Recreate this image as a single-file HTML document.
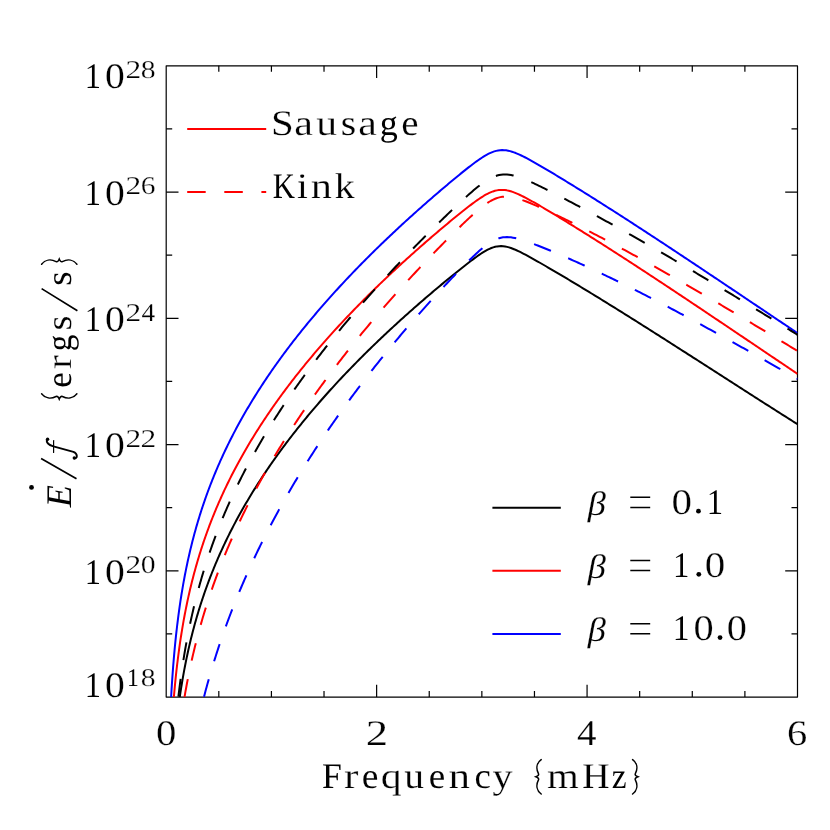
<!DOCTYPE html>
<html><head><meta charset="utf-8"><title>Energy flux spectrum</title>
<style>
html,body{margin:0;padding:0;background:#fff;}
body{width:830px;height:830px;overflow:hidden;font-family:"Liberation Serif",serif;}
svg{display:block;will-change:transform;opacity:0.999;text-rendering:geometricPrecision;}
</style></head><body>
<svg width="830" height="830" viewBox="0 0 830 830" font-family="'Liberation Serif', serif">
<rect width="830" height="830" fill="#fff"/>
<g fill="none" stroke="#000" stroke-width="1.2" stroke-linejoin="round" stroke-linecap="butt">
<rect x="166.2" y="65.8" width="631.30" height="631.30"/>
<path d="M218.81,697.1v-6.0M218.81,65.8v6.0M271.42,697.1v-6.0M271.42,65.8v6.0M324.02,697.1v-6.0M324.02,65.8v6.0M376.63,697.1v-12.3M376.63,65.8v12.3M429.24,697.1v-6.0M429.24,65.8v6.0M481.85,697.1v-6.0M481.85,65.8v6.0M534.46,697.1v-6.0M534.46,65.8v6.0M587.07,697.1v-12.3M587.07,65.8v12.3M639.67,697.1v-6.0M639.67,65.8v6.0M692.28,697.1v-6.0M692.28,65.8v6.0M744.89,697.1v-6.0M744.89,65.8v6.0M166.2,128.93h6.0M797.5,128.93h-6.0M166.2,192.06h12.3M797.5,192.06h-12.3M166.2,255.19h6.0M797.5,255.19h-6.0M166.2,318.32h12.3M797.5,318.32h-12.3M166.2,381.45h6.0M797.5,381.45h-6.0M166.2,444.58h12.3M797.5,444.58h-12.3M166.2,507.71h6.0M797.5,507.71h-6.0M166.2,570.84h12.3M797.5,570.84h-12.3M166.2,633.97h6.0M797.5,633.97h-6.0"/>
</g>
<clipPath id="c"><rect x="166.2" y="65.8" width="631.30" height="631.30"/></clipPath>
<g clip-path="url(#c)" fill="none" stroke-width="2" stroke-linejoin="round">
<path d="M179.76,697.10L180.05,695.12L180.35,693.14L180.65,691.16L180.96,689.18L181.27,687.20L181.59,685.22L181.91,683.24L182.25,681.27L182.58,679.29L182.93,677.32L183.27,675.34L183.63,673.37L183.99,671.40L184.36,669.43L184.73,667.46L185.11,665.50L185.50,663.53L185.89,661.57L186.29,659.60L186.70,657.64L187.11,655.68L187.53,653.72L187.96,651.76L188.39,649.81L188.83,647.85L189.28,645.90L189.73,643.95L190.20,642.00L190.66,640.05L191.14,638.11L191.62,636.16L192.11,634.22L192.61,632.28L193.12,630.34L193.63,628.40L194.15,626.47L194.67,624.53L195.21,622.60L195.75,620.67L196.30,618.75L196.86,616.82L197.42,614.90L197.99,612.98L198.57,611.06L199.16,609.15L199.76,607.23L200.36,605.32L200.97,603.41L201.59,601.51L202.21,599.60L202.84,597.70L203.49,595.81L204.13,593.91L204.79,592.02L205.45,590.13L206.13,588.24L206.81,586.35L207.49,584.47L208.19,582.59L208.89,580.72L209.60,578.84L210.32,576.97L211.05,575.11L211.78,573.24L212.52,571.38L213.27,569.52L214.02,567.67L214.79,565.81L215.56,563.96L216.34,562.12L217.12,560.28L217.92,558.44L218.72,556.60L219.53,554.77L220.34,552.94L221.17,551.11L222.00,549.29L222.84,547.47L223.68,545.65L224.54,543.84L225.40,542.03L226.26,540.22L227.14,538.42L228.02,536.62L228.91,534.82L229.80,533.03L230.70,531.24L231.61,529.46L232.53,527.68L233.45,525.90L234.38,524.12L235.32,522.35L236.26,520.58L237.21,518.82L238.17,517.06L239.13,515.30L240.10,513.55L241.08,511.80L242.06,510.05L243.05,508.31L244.05,506.57L245.05,504.84L246.06,503.11L247.07,501.38L248.09,499.66L249.12,497.93L250.15,496.22L251.19,494.51L252.24,492.80L253.29,491.09L254.34,489.39L255.41,487.69L256.48,485.99L257.55,484.30L258.63,482.62L259.72,480.93L260.81,479.25L261.90,477.58L263.01,475.90L264.11,474.23L265.23,472.57L266.35,470.91L267.47,469.25L268.60,467.59L269.74,465.94L270.88,464.29L272.02,462.65L273.17,461.01L274.33,459.37L275.49,457.74L276.65,456.11L277.82,454.48L279.00,452.86L280.18,451.24L281.37,449.63L282.56,448.02L283.75,446.41L284.95,444.80L286.15,443.20L287.36,441.60L288.58,440.01L289.79,438.42L291.02,436.83L292.24,435.25L293.48,433.67L294.71,432.09L295.95,430.52L297.20,428.95L298.44,427.38L299.70,425.82L300.96,424.26L302.22,422.70L303.48,421.15L304.75,419.60L306.03,418.05L307.30,416.51L308.59,414.97L309.87,413.43L311.16,411.90L312.46,410.37L313.75,408.84L315.05,407.32L316.36,405.80L317.67,404.28L318.98,402.77L320.30,401.26L321.62,399.75L322.94,398.25L324.27,396.75L325.60,395.25L326.93,393.75L328.27,392.26L329.61,390.77L330.96,389.29L332.31,387.81L333.66,386.33L335.01,384.85L336.37,383.38L337.74,381.91L339.10,380.44L340.47,378.98L341.84,377.52L343.22,376.06L344.59,374.61L345.97,373.16L347.36,371.71L348.75,370.26L350.14,368.82L351.53,367.38L352.93,365.94L354.33,364.51L355.73,363.08L357.13,361.65L358.54,360.23L359.95,358.80L361.37,357.39L362.79,355.97L364.20,354.56L365.63,353.14L367.05,351.74L368.48,350.33L369.91,348.93L371.35,347.53L372.78,346.13L374.22,344.74L375.66,343.35L377.11,341.96L378.55,340.57L380.00,339.19L381.45,337.81L382.91,336.43L384.37,335.05L385.83,333.68L387.29,332.31L388.75,330.94L390.22,329.58L391.69,328.22L393.16,326.86L394.63,325.50L396.11,324.15L397.59,322.79L399.07,321.44L400.55,320.10L402.04,318.75L403.52,317.41L405.01,316.07L406.51,314.73L408.00,313.40L409.50,312.07L411.00,310.74L412.50,309.41L414.00,308.09L415.51,306.76L417.01,305.44L418.52,304.13L420.03,302.81L421.55,301.50L423.06,300.19L424.58,298.88L426.10,297.57L427.62,296.27L429.14,294.97L430.67,293.67L432.20,292.37L433.72,291.08L435.26,289.78L436.79,288.49L438.32,287.21L439.86,285.92L441.40,284.64L442.94,283.36L444.48,282.08L446.03,280.80L447.57,279.53L449.12,278.26L450.67,276.99L452.22,275.72L453.78,274.46L455.34,273.20L456.90,271.94L458.46,270.68L460.02,269.43L461.59,268.18L463.16,266.94L464.73,265.70L466.31,264.46L467.89,263.24L469.48,262.01L471.08,260.80L472.68,259.60L474.29,258.40L475.91,257.22L477.54,256.06L479.18,254.91L480.84,253.79L482.52,252.70L484.23,251.65L485.96,250.64L487.72,249.69L489.52,248.81L491.36,248.02L493.25,247.34L495.17,246.79L497.14,246.39L499.12,246.16L501.13,246.09L503.13,246.20L505.11,246.47L507.07,246.87L509.01,247.39L510.92,248.01L512.80,248.70L514.65,249.45L516.49,250.26L518.31,251.10L520.11,251.97L521.90,252.86L523.68,253.78L525.46,254.71L527.22,255.66L528.98,256.62L530.74,257.58L532.49,258.56L534.24,259.54L535.98,260.52L537.73,261.51L539.47,262.50L541.20,263.50L542.94,264.50L544.67,265.50L546.41,266.51L548.14,267.51L549.87,268.52L551.60,269.53L553.33,270.55L555.06,271.56L556.78,272.58L558.51,273.60L560.23,274.62L561.95,275.64L563.68,276.66L565.40,277.69L567.12,278.72L568.84,279.74L570.56,280.77L572.28,281.80L573.99,282.84L575.71,283.87L577.43,284.90L579.14,285.94L580.85,286.98L582.57,288.02L584.28,289.06L585.99,290.10L587.70,291.14L589.41,292.18L591.12,293.23L592.83,294.27L594.54,295.32L596.25,296.37L597.96,297.41L599.66,298.46L601.37,299.51L603.08,300.57L604.78,301.62L606.48,302.67L608.19,303.73L609.89,304.78L611.59,305.84L613.30,306.90L615.00,307.95L616.70,309.01L618.40,310.07L620.10,311.13L621.80,312.19L623.50,313.26L625.19,314.32L626.89,315.38L628.59,316.45L630.29,317.51L631.98,318.58L633.68,319.64L635.38,320.71L637.07,321.78L638.77,322.85L640.46,323.92L642.15,324.99L643.85,326.06L645.54,327.13L647.23,328.20L648.93,329.27L650.62,330.34L652.31,331.42L654.00,332.49L655.69,333.56L657.39,334.64L659.08,335.71L660.77,336.79L662.46,337.86L664.15,338.94L665.84,340.02L667.53,341.09L669.21,342.17L670.90,343.25L672.59,344.33L674.28,345.41L675.97,346.49L677.66,347.56L679.35,348.64L681.03,349.72L682.72,350.80L684.41,351.88L686.10,352.96L687.78,354.05L689.47,355.13L691.16,356.21L692.84,357.29L694.53,358.37L696.22,359.45L697.90,360.53L699.59,361.62L701.27,362.70L702.96,363.78L704.65,364.86L706.33,365.95L708.02,367.03L709.70,368.11L711.39,369.19L713.08,370.28L714.76,371.36L716.45,372.44L718.13,373.52L719.82,374.61L721.50,375.69L723.19,376.77L724.88,377.86L726.56,378.94L728.25,380.02L729.93,381.10L731.62,382.19L733.31,383.27L734.99,384.35L736.68,385.43L738.36,386.51L740.05,387.60L741.74,388.68L743.42,389.76L745.11,390.84L746.80,391.92L748.48,393.00L750.17,394.08L751.86,395.16L753.55,396.24L755.23,397.32L756.92,398.40L758.61,399.48L760.30,400.56L761.99,401.64L763.67,402.72L765.36,403.80L767.05,404.87L768.74,405.95L770.43,407.03L772.12,408.11L773.81,409.18L775.50,410.26L777.19,411.33L778.88,412.41L780.57,413.48L782.26,414.56L783.96,415.63L785.65,416.70L787.34,417.78L789.03,418.85L790.73,419.92L792.42,420.99L794.11,422.06L795.81,423.13L797.50,424.20" stroke="#000000"/>
<path d="M173.87,697.10L174.04,695.11L174.22,693.11L174.40,691.12L174.58,689.12L174.77,687.13L174.96,685.14L175.15,683.15L175.35,681.16L175.55,679.16L175.75,677.17L175.96,675.18L176.18,673.19L176.40,671.20L176.62,669.21L176.85,667.22L177.08,665.24L177.31,663.25L177.56,661.26L177.80,659.28L178.05,657.29L178.31,655.30L178.57,653.32L178.83,651.34L179.10,649.35L179.38,647.37L179.66,645.39L179.94,643.41L180.23,641.43L180.53,639.45L180.83,637.47L181.14,635.49L181.45,633.51L181.77,631.54L182.09,629.56L182.42,627.59L182.76,625.61L183.10,623.64L183.45,621.67L183.80,619.70L184.16,617.73L184.53,615.76L184.90,613.80L185.28,611.83L185.66,609.87L186.05,607.90L186.45,605.94L186.86,603.98L187.27,602.02L187.68,600.07L188.11,598.11L188.54,596.15L188.98,594.20L189.42,592.25L189.87,590.30L190.33,588.35L190.80,586.40L191.27,584.46L191.75,582.52L192.24,580.57L192.73,578.64L193.23,576.70L193.74,574.76L194.26,572.83L194.78,570.90L195.31,568.97L195.85,567.04L196.39,565.11L196.95,563.19L197.51,561.27L198.07,559.35L198.65,557.43L199.23,555.51L199.82,553.60L200.42,551.69L201.03,549.78L201.64,547.88L202.26,545.98L202.89,544.08L203.52,542.18L204.17,540.28L204.82,538.39L205.48,536.50L206.15,534.61L206.82,532.73L207.50,530.85L208.19,528.97L208.89,527.09L209.59,525.22L210.31,523.35L211.03,521.48L211.75,519.61L212.49,517.75L213.23,515.89L213.98,514.04L214.74,512.19L215.51,510.34L216.28,508.49L217.06,506.65L217.85,504.81L218.64,502.97L219.45,501.14L220.26,499.31L221.07,497.48L221.90,495.66L222.73,493.84L223.57,492.02L224.42,490.20L225.27,488.39L226.13,486.59L227.00,484.78L227.87,482.98L228.76,481.19L229.64,479.39L230.54,477.60L231.44,475.82L232.35,474.03L233.27,472.25L234.19,470.48L235.12,468.71L236.06,466.94L237.00,465.17L237.95,463.41L238.91,461.65L239.87,459.90L240.84,458.15L241.82,456.40L242.80,454.66L243.79,452.91L244.79,451.18L245.79,449.45L246.80,447.72L247.81,445.99L248.83,444.27L249.86,442.55L250.89,440.83L251.93,439.12L252.97,437.42L254.02,435.71L255.08,434.01L256.14,432.31L257.21,430.62L258.28,428.93L259.36,427.24L260.44,425.56L261.53,423.88L262.63,422.21L263.73,420.54L264.84,418.87L265.95,417.20L267.06,415.54L268.19,413.89L269.31,412.23L270.45,410.58L271.59,408.94L272.73,407.29L273.88,405.65L275.03,404.02L276.19,402.38L277.35,400.76L278.52,399.13L279.69,397.51L280.87,395.89L282.05,394.27L283.24,392.66L284.43,391.05L285.63,389.45L286.83,387.85L288.03,386.25L289.24,384.66L290.46,383.07L291.68,381.48L292.90,379.89L294.13,378.31L295.36,376.74L296.60,375.16L297.84,373.59L299.09,372.03L300.33,370.46L301.59,368.90L302.85,367.34L304.11,365.79L305.37,364.24L306.64,362.69L307.92,361.15L309.19,359.61L310.47,358.07L311.76,356.53L313.05,355.00L314.34,353.47L315.64,351.95L316.94,350.43L318.24,348.91L319.55,347.39L320.86,345.88L322.18,344.37L323.49,342.87L324.82,341.36L326.14,339.86L327.47,338.37L328.80,336.87L330.14,335.38L331.48,333.90L332.82,332.41L334.17,330.93L335.52,329.45L336.87,327.97L338.22,326.50L339.58,325.03L340.95,323.57L342.31,322.10L343.68,320.64L345.05,319.18L346.43,317.73L347.80,316.28L349.18,314.83L350.57,313.38L351.95,311.94L353.34,310.50L354.74,309.06L356.13,307.62L357.53,306.19L358.93,304.76L360.34,303.34L361.74,301.91L363.15,300.49L364.56,299.07L365.98,297.66L367.40,296.24L368.82,294.83L370.24,293.43L371.67,292.02L373.09,290.62L374.53,289.22L375.96,287.82L377.40,286.43L378.83,285.04L380.27,283.65L381.72,282.26L383.16,280.88L384.61,279.50L386.06,278.12L387.52,276.74L388.97,275.37L390.43,274.00L391.89,272.63L393.35,271.26L394.82,269.90L396.29,268.54L397.76,267.18L399.23,265.82L400.70,264.47L402.18,263.11L403.66,261.77L405.14,260.42L406.62,259.07L408.11,257.73L409.59,256.39L411.08,255.06L412.58,253.72L414.07,252.39L415.56,251.06L417.06,249.73L418.56,248.40L420.06,247.08L421.57,245.76L423.07,244.44L424.58,243.13L426.09,241.81L427.60,240.50L429.12,239.19L430.63,237.88L432.15,236.58L433.67,235.27L435.19,233.97L436.71,232.67L438.24,231.38L439.77,230.08L441.30,228.79L442.83,227.50L444.36,226.22L445.89,224.93L447.43,223.65L448.97,222.37L450.51,221.09L452.06,219.82L453.60,218.55L455.15,217.28L456.70,216.02L458.26,214.76L459.82,213.50L461.38,212.25L462.94,211.00L464.51,209.75L466.08,208.52L467.66,207.29L469.25,206.06L470.84,204.85L472.44,203.65L474.05,202.46L475.67,201.28L477.30,200.12L478.95,198.98L480.61,197.87L482.29,196.79L484.00,195.74L485.73,194.74L487.50,193.80L489.30,192.92L491.13,192.12L493.00,191.42L494.92,190.83L496.87,190.37L498.84,190.06L500.84,189.90L502.84,189.91L504.83,190.06L506.81,190.36L508.77,190.77L510.70,191.30L512.61,191.91L514.49,192.60L516.34,193.35L518.18,194.14L520.00,194.98L521.80,195.85L523.59,196.75L525.37,197.67L527.13,198.61L528.89,199.56L530.65,200.53L532.40,201.50L534.14,202.49L535.88,203.48L537.61,204.48L539.34,205.48L541.07,206.49L542.80,207.51L544.52,208.53L546.24,209.55L547.96,210.57L549.68,211.60L551.39,212.63L553.11,213.66L554.82,214.69L556.54,215.73L558.25,216.77L559.96,217.81L561.67,218.85L563.38,219.89L565.08,220.94L566.79,221.99L568.49,223.03L570.20,224.08L571.90,225.13L573.60,226.19L575.30,227.24L577.01,228.30L578.71,229.35L580.40,230.41L582.10,231.47L583.80,232.53L585.50,233.59L587.19,234.66L588.89,235.72L590.58,236.79L592.28,237.86L593.97,238.92L595.66,239.99L597.35,241.06L599.04,242.13L600.73,243.21L602.42,244.28L604.11,245.36L605.80,246.43L607.48,247.51L609.17,248.59L610.86,249.67L612.54,250.75L614.23,251.83L615.91,252.91L617.59,253.99L619.28,255.07L620.96,256.16L622.64,257.25L624.32,258.33L626.00,259.42L627.68,260.51L629.36,261.60L631.04,262.69L632.72,263.78L634.40,264.87L636.08,265.96L637.75,267.05L639.43,268.15L641.10,269.24L642.78,270.34L644.45,271.43L646.13,272.53L647.80,273.63L649.48,274.72L651.15,275.82L652.82,276.92L654.49,278.02L656.17,279.12L657.84,280.22L659.51,281.33L661.18,282.43L662.85,283.53L664.52,284.64L666.19,285.74L667.86,286.84L669.53,287.95L671.20,289.06L672.86,290.16L674.53,291.27L676.20,292.38L677.87,293.48L679.53,294.59L681.20,295.70L682.86,296.81L684.53,297.92L686.20,299.03L687.86,300.14L689.53,301.25L691.19,302.36L692.86,303.47L694.52,304.59L696.18,305.70L697.85,306.81L699.51,307.92L701.18,309.04L702.84,310.15L704.50,311.27L706.16,312.38L707.83,313.49L709.49,314.61L711.15,315.72L712.81,316.84L714.48,317.96L716.14,319.07L717.80,320.19L719.46,321.30L721.12,322.42L722.78,323.54L724.44,324.65L726.10,325.77L727.76,326.89L729.43,328.01L731.09,329.12L732.75,330.24L734.41,331.36L736.07,332.48L737.73,333.60L739.39,334.71L741.05,335.83L742.71,336.95L744.37,338.07L746.03,339.19L747.69,340.31L749.35,341.42L751.01,342.54L752.67,343.66L754.33,344.78L755.99,345.90L757.65,347.02L759.31,348.14L760.97,349.25L762.63,350.37L764.29,351.49L765.95,352.61L767.61,353.73L769.27,354.85L770.93,355.97L772.59,357.08L774.25,358.20L775.91,359.32L777.57,360.44L779.23,361.56L780.89,362.67L782.55,363.79L784.21,364.91L785.87,366.02L787.53,367.14L789.19,368.26L790.85,369.38L792.52,370.49L794.18,371.61L795.84,372.72L797.50,373.84" stroke="#ff0000"/>
<path d="M171.12,697.10L171.24,695.10L171.35,693.10L171.47,691.10L171.59,689.10L171.72,687.10L171.84,685.10L171.97,683.10L172.10,681.11L172.24,679.11L172.38,677.11L172.52,675.11L172.66,673.11L172.81,671.11L172.96,669.12L173.11,667.12L173.27,665.12L173.43,663.13L173.60,661.13L173.76,659.13L173.93,657.14L174.11,655.14L174.29,653.15L174.47,651.15L174.65,649.16L174.84,647.16L175.03,645.17L175.23,643.18L175.43,641.18L175.64,639.19L175.85,637.20L176.06,635.21L176.28,633.22L176.50,631.23L176.73,629.24L176.96,627.25L177.19,625.26L177.43,623.27L177.68,621.28L177.93,619.29L178.18,617.31L178.44,615.32L178.71,613.33L178.98,611.35L179.25,609.36L179.53,607.38L179.82,605.40L180.11,603.42L180.40,601.44L180.70,599.46L181.01,597.48L181.32,595.50L181.64,593.52L181.97,591.54L182.30,589.57L182.63,587.59L182.97,585.62L183.32,583.65L183.68,581.67L184.04,579.70L184.40,577.73L184.77,575.77L185.15,573.80L185.54,571.83L185.93,569.87L186.33,567.91L186.73,565.94L187.15,563.98L187.56,562.03L187.99,560.07L188.42,558.11L188.86,556.16L189.31,554.20L189.76,552.25L190.22,550.30L190.68,548.36L191.16,546.41L191.64,544.46L192.13,542.52L192.62,540.58L193.12,538.64L193.63,536.70L194.15,534.77L194.68,532.84L195.21,530.91L195.75,528.98L196.29,527.05L196.85,525.12L197.41,523.20L197.98,521.28L198.56,519.36L199.14,517.45L199.73,515.53L200.33,513.62L200.94,511.71L201.56,509.81L202.18,507.90L202.81,506.00L203.45,504.10L204.09,502.21L204.75,500.31L205.41,498.42L206.08,496.53L206.75,494.65L207.44,492.77L208.13,490.89L208.83,489.01L209.54,487.14L210.25,485.26L210.97,483.40L211.70,481.53L212.44,479.67L213.19,477.81L213.94,475.95L214.70,474.10L215.47,472.25L216.24,470.40L217.03,468.56L217.82,466.72L218.61,464.88L219.42,463.05L220.23,461.22L221.05,459.39L221.88,457.56L222.71,455.74L223.55,453.93L224.40,452.11L225.26,450.30L226.12,448.49L226.99,446.69L227.87,444.89L228.75,443.09L229.65,441.30L230.54,439.51L231.45,437.72L232.36,435.94L233.28,434.16L234.21,432.38L235.14,430.61L236.08,428.84L237.02,427.07L237.97,425.31L238.93,423.55L239.90,421.79L240.87,420.04L241.85,418.29L242.83,416.55L243.82,414.81L244.82,413.07L245.82,411.34L246.83,409.61L247.85,407.88L248.87,406.16L249.90,404.44L250.93,402.72L251.97,401.01L253.02,399.30L254.07,397.60L255.13,395.90L256.19,394.20L257.26,392.50L258.33,390.81L259.41,389.13L260.50,387.44L261.59,385.76L262.69,384.09L263.79,382.41L264.89,380.75L266.01,379.08L267.12,377.42L268.25,375.76L269.38,374.10L270.51,372.45L271.65,370.80L272.79,369.16L273.94,367.52L275.09,365.88L276.25,364.25L277.42,362.62L278.58,360.99L279.76,359.37L280.94,357.75L282.12,356.13L283.31,354.52L284.50,352.91L285.69,351.30L286.90,349.70L288.10,348.10L289.31,346.50L290.53,344.91L291.74,343.32L292.97,341.73L294.19,340.15L295.43,338.57L296.66,336.99L297.90,335.42L299.15,333.85L300.40,332.28L301.65,330.72L302.91,329.16L304.17,327.60L305.43,326.05L306.70,324.50L307.97,322.95L309.25,321.41L310.53,319.87L311.81,318.33L313.10,316.80L314.39,315.27L315.69,313.74L316.99,312.21L318.29,310.69L319.59,309.17L320.90,307.66L322.22,306.14L323.53,304.64L324.85,303.13L326.18,301.63L327.51,300.12L328.84,298.63L330.17,297.13L331.51,295.64L332.85,294.15L334.19,292.67L335.54,291.19L336.89,289.71L338.24,288.23L339.60,286.76L340.96,285.28L342.32,283.82L343.69,282.35L345.06,280.89L346.43,279.43L347.80,277.97L349.18,276.52L350.56,275.07L351.95,273.62L353.33,272.17L354.72,270.73L356.11,269.29L357.51,267.85L358.91,266.42L360.31,264.99L361.71,263.56L363.12,262.13L364.53,260.71L365.94,259.29L367.35,257.87L368.77,256.45L370.19,255.04L371.61,253.63L373.04,252.22L374.47,250.82L375.90,249.41L377.33,248.01L378.76,246.62L380.20,245.22L381.64,243.83L383.08,242.44L384.53,241.05L385.97,239.67L387.42,238.28L388.88,236.90L390.33,235.53L391.79,234.15L393.24,232.78L394.71,231.41L396.17,230.04L397.63,228.67L399.10,227.31L400.57,225.95L402.04,224.59L403.52,223.24L404.99,221.88L406.47,220.53L407.95,219.18L409.44,217.83L410.92,216.49L412.41,215.15L413.90,213.81L415.39,212.47L416.88,211.13L418.38,209.80L419.87,208.47L421.37,207.14L422.87,205.82L424.38,204.49L425.88,203.17L427.39,201.85L428.90,200.53L430.41,199.22L431.92,197.90L433.43,196.59L434.95,195.28L436.47,193.97L437.99,192.67L439.51,191.37L441.03,190.07L442.56,188.77L444.09,187.47L445.62,186.18L447.15,184.89L448.68,183.60L450.22,182.32L451.76,181.03L453.30,179.75L454.84,178.47L456.38,177.20L457.93,175.93L459.48,174.66L461.04,173.40L462.60,172.14L464.16,170.89L465.72,169.64L467.30,168.39L468.87,167.16L470.46,165.93L472.05,164.71L473.65,163.51L475.26,162.32L476.88,161.14L478.51,159.98L480.16,158.84L481.83,157.73L483.52,156.66L485.23,155.62L486.97,154.63L488.75,153.70L490.56,152.85L492.41,152.07L494.29,151.41L496.22,150.86L498.18,150.45L500.17,150.19L502.17,150.09L504.17,150.14L506.16,150.35L508.13,150.69L510.08,151.14L512.01,151.70L513.91,152.34L515.78,153.05L517.63,153.82L519.46,154.63L521.28,155.48L523.08,156.36L524.86,157.26L526.64,158.19L528.41,159.13L530.17,160.09L531.92,161.06L533.67,162.04L535.41,163.02L537.15,164.02L538.88,165.02L540.61,166.03L542.34,167.04L544.07,168.05L545.79,169.07L547.52,170.09L549.24,171.12L550.96,172.15L552.68,173.18L554.39,174.21L556.11,175.24L557.82,176.28L559.54,177.32L561.25,178.36L562.96,179.40L564.67,180.44L566.38,181.49L568.08,182.53L569.79,183.58L571.50,184.63L573.20,185.68L574.91,186.74L576.61,187.79L578.31,188.84L580.01,189.90L581.72,190.96L583.42,192.02L585.12,193.08L586.81,194.14L588.51,195.20L590.21,196.27L591.91,197.33L593.60,198.40L595.30,199.47L596.99,200.54L598.68,201.61L600.38,202.68L602.07,203.75L603.76,204.82L605.45,205.90L607.14,206.97L608.83,208.05L610.52,209.12L612.21,210.20L613.89,211.28L615.58,212.36L617.27,213.44L618.95,214.52L620.64,215.61L622.32,216.69L624.01,217.78L625.69,218.86L627.37,219.95L629.06,221.03L630.74,222.12L632.42,223.21L634.10,224.30L635.78,225.39L637.46,226.48L639.14,227.57L640.82,228.67L642.50,229.76L644.18,230.85L645.85,231.95L647.53,233.04L649.21,234.14L650.88,235.24L652.56,236.34L654.23,237.43L655.91,238.53L657.58,239.63L659.26,240.73L660.93,241.83L662.60,242.93L664.28,244.03L665.95,245.14L667.62,246.24L669.29,247.34L670.96,248.45L672.64,249.55L674.31,250.66L675.98,251.76L677.65,252.87L679.32,253.97L680.99,255.08L682.66,256.19L684.32,257.30L685.99,258.40L687.66,259.51L689.33,260.62L691.00,261.73L692.67,262.84L694.33,263.95L696.00,265.06L697.67,266.17L699.33,267.28L701.00,268.39L702.67,269.51L704.33,270.62L706.00,271.73L707.66,272.84L709.33,273.96L710.99,275.07L712.66,276.18L714.32,277.30L715.99,278.41L717.65,279.53L719.32,280.64L720.98,281.75L722.65,282.87L724.31,283.98L725.97,285.10L727.64,286.21L729.30,287.33L730.97,288.45L732.63,289.56L734.29,290.68L735.96,291.79L737.62,292.91L739.28,294.03L740.95,295.14L742.61,296.26L744.27,297.38L745.93,298.49L747.60,299.61L749.26,300.73L750.92,301.84L752.59,302.96L754.25,304.08L755.91,305.19L757.58,306.31L759.24,307.43L760.90,308.54L762.56,309.66L764.23,310.78L765.89,311.89L767.55,313.01L769.22,314.13L770.88,315.24L772.54,316.36L774.21,317.48L775.87,318.59L777.53,319.71L779.20,320.82L780.86,321.94L782.52,323.06L784.19,324.17L785.85,325.29L787.51,326.40L789.18,327.52L790.84,328.63L792.51,329.75L794.17,330.86L795.84,331.98L797.50,333.09" stroke="#0000ff"/>
<path d="M178.35,697.10L178.58,695.11L178.82,693.12L179.06,691.13L179.31,689.14L179.56,687.16L179.81,685.17L180.07,683.18L180.33,681.20L180.60,679.21L180.87,677.23L181.15,675.24L181.43,673.26L181.72,671.28L182.01,669.29L182.30,667.31L182.60,665.33L182.90,663.35L183.21,661.37L183.53,659.39L183.85,657.42L184.17,655.44L184.50,653.46L184.83,651.49L185.17,649.51L185.52,647.54L185.87,645.57L186.22,643.60L186.58,641.62L186.95,639.66L187.32,637.69L187.70,635.72L188.08,633.75L188.47,631.79L188.86,629.82L189.26,627.86L189.67,625.90L190.08,623.94L190.49,621.98L190.92,620.02L191.35,618.06L191.78,616.11L192.22,614.15L192.67,612.20L193.12,610.25L193.58,608.30L194.04,606.35L194.52,604.40L194.99,602.46L195.48,600.51L195.97,598.57L196.46,596.63L196.96,594.69L197.47,592.75L197.99,590.82L198.51,588.88L199.04,586.95L199.57,585.02L200.11,583.09L200.66,581.16L201.21,579.24L201.77,577.31L202.34,575.39L202.91,573.47L203.49,571.56L204.08,569.64L204.67,567.73L205.27,565.81L205.87,563.90L206.49,562.00L207.10,560.09L207.73,558.19L208.36,556.29L209.00,554.39L209.65,552.49L210.30,550.60L210.96,548.71L211.62,546.82L212.29,544.93L212.97,543.04L213.65,541.16L214.35,539.28L215.04,537.40L215.75,535.53L216.46,533.65L217.18,531.78L217.90,529.92L218.63,528.05L219.37,526.19L220.11,524.33L220.86,522.47L221.61,520.61L222.38,518.76L223.15,516.91L223.92,515.06L224.70,513.22L225.49,511.38L226.28,509.54L227.08,507.70L227.89,505.87L228.70,504.04L229.52,502.21L230.35,500.38L231.18,498.56L232.01,496.74L232.86,494.92L233.71,493.11L234.56,491.30L235.42,489.49L236.29,487.68L237.16,485.88L238.04,484.08L238.93,482.28L239.82,480.49L240.71,478.69L241.62,476.91L242.52,475.12L243.44,473.34L244.36,471.56L245.28,469.78L246.21,468.01L247.15,466.23L248.09,464.47L249.03,462.70L249.99,460.94L250.94,459.18L251.91,457.42L252.88,455.67L253.85,453.92L254.83,452.17L255.81,450.42L256.80,448.68L257.79,446.94L258.79,445.21L259.80,443.47L260.81,441.74L261.82,440.01L262.84,438.29L263.87,436.57L264.89,434.85L265.93,433.13L266.97,431.42L268.01,429.71L269.06,428.00L270.11,426.30L271.17,424.60L272.23,422.90L273.30,421.20L274.37,419.51L275.44,417.82L276.52,416.13L277.61,414.45L278.70,412.77L279.79,411.09L280.89,409.41L281.99,407.74L283.10,406.07L284.21,404.40L285.32,402.74L286.44,401.07L287.56,399.41L288.69,397.76L289.82,396.10L290.95,394.45L292.09,392.81L293.24,391.16L294.38,389.52L295.53,387.88L296.69,386.24L297.84,384.61L299.01,382.97L300.17,381.34L301.34,379.72L302.51,378.09L303.69,376.47L304.87,374.85L306.06,373.24L307.24,371.62L308.43,370.01L309.63,368.41L310.83,366.80L312.03,365.20L313.23,363.60L314.44,362.00L315.65,360.40L316.87,358.81L318.09,357.22L319.31,355.63L320.53,354.05L321.76,352.46L322.99,350.88L324.23,349.31L325.46,347.73L326.71,346.16L327.95,344.59L329.20,343.02L330.45,341.45L331.70,339.89L332.95,338.33L334.21,336.77L335.48,335.22L336.74,333.66L338.01,332.11L339.28,330.56L340.55,329.02L341.83,327.47L343.11,325.93L344.39,324.39L345.67,322.85L346.96,321.32L348.25,319.78L349.54,318.25L350.84,316.73L352.14,315.20L353.44,313.68L354.74,312.15L356.04,310.63L357.35,309.12L358.66,307.60L359.98,306.09L361.29,304.58L362.61,303.07L363.93,301.56L365.25,300.06L366.58,298.56L367.91,297.06L369.24,295.56L370.57,294.06L371.91,292.57L373.24,291.08L374.58,289.59L375.93,288.10L377.27,286.62L378.62,285.13L379.96,283.65L381.32,282.17L382.67,280.70L384.02,279.22L385.38,277.75L386.74,276.28L388.10,274.81L389.47,273.34L390.83,271.87L392.20,270.41L393.57,268.95L394.94,267.49L396.32,266.03L397.69,264.58L399.07,263.12L400.45,261.67L401.83,260.22L403.22,258.77L404.60,257.33L405.99,255.88L407.38,254.44L408.77,253.00L410.17,251.56L411.56,250.12L412.96,248.69L414.36,247.25L415.76,245.82L417.17,244.39L418.57,242.96L419.98,241.54L421.39,240.11L422.80,238.69L424.21,237.27L425.62,235.85L427.04,234.43L428.46,233.02L429.88,231.60L431.30,230.19L432.72,228.78L434.14,227.37L435.57,225.97L437.00,224.56L438.43,223.16L439.86,221.76L441.29,220.36L442.73,218.96L444.17,217.57L445.61,216.17L447.05,214.78L448.49,213.39L449.94,212.01L451.39,210.62L452.84,209.24L454.29,207.86L455.75,206.49L457.21,205.11L458.67,203.74L460.13,202.38L461.60,201.02L463.08,199.66L464.56,198.31L466.04,196.96L467.53,195.62L469.03,194.29L470.53,192.97L472.04,191.65L473.56,190.35L475.10,189.06L476.64,187.79L478.21,186.53L479.78,185.30L481.38,184.09L483.00,182.91L484.65,181.77L486.32,180.67L488.03,179.62L489.77,178.63L491.55,177.71L493.37,176.88L495.24,176.15L497.14,175.53L499.08,175.05L501.06,174.69L503.05,174.49L505.05,174.42L507.05,174.49L509.05,174.69L511.02,175.00L512.99,175.41L514.93,175.90L516.85,176.45L518.76,177.07L520.65,177.74L522.52,178.44L524.38,179.18L526.24,179.95L528.08,180.74L529.91,181.55L531.73,182.37L533.55,183.21L535.37,184.06L537.17,184.93L538.98,185.80L540.78,186.67L542.58,187.56L544.37,188.45L546.17,189.34L547.96,190.24L549.74,191.14L551.53,192.05L553.31,192.96L555.10,193.87L556.88,194.79L558.66,195.71L560.44,196.63L562.22,197.56L563.99,198.48L565.77,199.41L567.54,200.34L569.31,201.27L571.09,202.21L572.86,203.15L574.63,204.08L576.39,205.03L578.16,205.97L579.93,206.91L581.69,207.86L583.46,208.81L585.22,209.75L586.99,210.71L588.75,211.66L590.51,212.61L592.27,213.57L594.03,214.53L595.79,215.49L597.55,216.45L599.30,217.41L601.06,218.37L602.82,219.34L604.57,220.30L606.33,221.27L608.08,222.24L609.83,223.21L611.58,224.18L613.33,225.16L615.08,226.13L616.83,227.11L618.58,228.09L620.33,229.07L622.08,230.05L623.82,231.03L625.57,232.01L627.31,233.00L629.06,233.98L630.80,234.97L632.54,235.96L634.28,236.95L636.03,237.94L637.77,238.93L639.51,239.92L641.25,240.91L642.98,241.91L644.72,242.91L646.46,243.90L648.20,244.90L649.93,245.90L651.67,246.90L653.40,247.90L655.14,248.91L656.87,249.91L658.60,250.91L660.34,251.92L662.07,252.93L663.80,253.93L665.53,254.94L667.26,255.95L668.99,256.96L670.72,257.97L672.45,258.99L674.18,260.00L675.90,261.02L677.63,262.03L679.36,263.05L681.08,264.06L682.81,265.08L684.53,266.10L686.26,267.12L687.98,268.14L689.71,269.16L691.43,270.18L693.15,271.21L694.87,272.23L696.59,273.26L698.32,274.28L700.04,275.31L701.76,276.33L703.48,277.36L705.20,278.39L706.91,279.42L708.63,280.45L710.35,281.48L712.07,282.51L713.78,283.54L715.50,284.58L717.22,285.61L718.93,286.64L720.65,287.68L722.36,288.71L724.08,289.75L725.79,290.79L727.51,291.82L729.22,292.86L730.93,293.90L732.65,294.94L734.36,295.98L736.07,297.02L737.78,298.06L739.49,299.10L741.20,300.15L742.91,301.19L744.62,302.23L746.33,303.27L748.04,304.32L749.75,305.36L751.46,306.41L753.17,307.45L754.88,308.50L756.59,309.55L758.29,310.60L760.00,311.64L761.71,312.69L763.42,313.74L765.12,314.79L766.83,315.84L768.54,316.89L770.24,317.94L771.95,318.99L773.65,320.04L775.36,321.09L777.06,322.15L778.77,323.20L780.47,324.25L782.17,325.31L783.88,326.36L785.58,327.41L787.28,328.47L788.99,329.52L790.69,330.58L792.39,331.63L794.10,332.69L795.80,333.75L797.50,334.80" stroke="#000000" stroke-dasharray="17.96 18.94" stroke-dashoffset="36.46"/>
<path d="M184.50,697.10L184.84,695.13L185.18,693.15L185.53,691.18L185.89,689.21L186.25,687.24L186.61,685.27L186.98,683.30L187.36,681.33L187.74,679.36L188.13,677.39L188.52,675.43L188.92,673.47L189.32,671.50L189.73,669.54L190.14,667.58L190.56,665.62L190.99,663.66L191.42,661.71L191.86,659.75L192.30,657.80L192.75,655.84L193.20,653.89L193.66,651.94L194.13,649.99L194.60,648.05L195.08,646.10L195.56,644.16L196.05,642.21L196.54,640.27L197.04,638.33L197.55,636.39L198.06,634.45L198.58,632.52L199.10,630.59L199.63,628.65L200.17,626.72L200.71,624.79L201.26,622.87L201.81,620.94L202.37,619.02L202.94,617.09L203.51,615.17L204.09,613.26L204.67,611.34L205.26,609.42L205.86,607.51L206.46,605.60L207.07,603.69L207.68,601.78L208.30,599.88L208.93,597.97L209.56,596.07L210.20,594.17L210.84,592.27L211.49,590.38L212.15,588.49L212.81,586.59L213.47,584.70L214.15,582.82L214.83,580.93L215.51,579.05L216.20,577.17L216.90,575.29L217.60,573.41L218.31,571.54L219.02,569.67L219.74,567.80L220.46,565.93L221.19,564.06L221.93,562.20L222.67,560.34L223.42,558.48L224.17,556.62L224.93,554.77L225.69,552.91L226.46,551.06L227.24,549.22L228.02,547.37L228.81,545.53L229.60,543.69L230.40,541.85L231.20,540.01L232.01,538.18L232.82,536.35L233.64,534.52L234.46,532.69L235.29,530.87L236.12,529.05L236.96,527.23L237.81,525.41L238.66,523.59L239.51,521.78L240.37,519.97L241.24,518.17L242.11,516.36L242.98,514.56L243.86,512.76L244.75,510.96L245.64,509.16L246.53,507.37L247.43,505.58L248.34,503.79L249.25,502.01L250.16,500.22L251.08,498.44L252.00,496.67L252.93,494.89L253.86,493.12L254.80,491.35L255.74,489.58L256.69,487.81L257.64,486.05L258.60,484.29L259.56,482.53L260.52,480.77L261.49,479.02L262.47,477.27L263.44,475.52L264.43,473.77L265.41,472.03L266.40,470.29L267.40,468.55L268.40,466.81L269.40,465.08L270.41,463.35L271.42,461.62L272.44,459.89L273.46,458.17L274.49,456.44L275.51,454.72L276.55,453.01L277.58,451.29L278.62,449.58L279.67,447.87L280.72,446.16L281.77,444.46L282.83,442.76L283.89,441.06L284.95,439.36L286.02,437.66L287.09,435.97L288.17,434.28L289.25,432.59L290.33,430.91L291.42,429.22L292.51,427.54L293.60,425.86L294.70,424.19L295.80,422.51L296.91,420.84L298.02,419.17L299.13,417.51L300.24,415.84L301.36,414.18L302.48,412.52L303.61,410.86L304.74,409.21L305.87,407.56L307.01,405.91L308.15,404.26L309.29,402.61L310.44,400.97L311.59,399.33L312.74,397.69L313.90,396.05L315.06,394.42L316.22,392.79L317.39,391.16L318.56,389.53L319.73,387.91L320.91,386.28L322.08,384.66L323.27,383.04L324.45,381.43L325.64,379.82L326.83,378.20L328.02,376.60L329.22,374.99L330.42,373.38L331.63,371.78L332.83,370.18L334.04,368.58L335.25,366.99L336.47,365.40L337.69,363.80L338.91,362.22L340.13,360.63L341.36,359.05L342.59,357.46L343.82,355.88L345.06,354.31L346.29,352.73L347.53,351.16L348.78,349.59L350.02,348.02L351.27,346.45L352.52,344.88L353.78,343.32L355.04,341.76L356.30,340.20L357.56,338.65L358.82,337.09L360.09,335.54L361.36,333.99L362.63,332.45L363.91,330.90L365.19,329.36L366.47,327.82L367.75,326.28L369.04,324.74L370.33,323.21L371.62,321.67L372.91,320.14L374.21,318.61L375.50,317.09L376.80,315.56L378.11,314.04L379.41,312.52L380.72,311.00L382.03,309.49L383.34,307.97L384.66,306.46L385.98,304.95L387.30,303.44L388.62,301.94L389.94,300.43L391.27,298.93L392.60,297.43L393.93,295.94L395.26,294.44L396.60,292.95L397.94,291.45L399.28,289.97L400.62,288.48L401.96,286.99L403.31,285.51L404.66,284.03L406.01,282.55L407.36,281.07L408.72,279.59L410.08,278.12L411.44,276.65L412.80,275.18L414.16,273.71L415.53,272.25L416.90,270.78L418.27,269.32L419.64,267.86L421.02,266.40L422.39,264.95L423.77,263.49L425.15,262.04L426.53,260.59L427.92,259.14L429.31,257.70L430.69,256.25L432.09,254.81L433.48,253.37L434.87,251.93L436.27,250.49L437.67,249.06L439.07,247.63L440.47,246.20L441.88,244.77L443.29,243.34L444.69,241.92L446.11,240.50L447.52,239.08L448.94,237.66L450.35,236.24L451.77,234.83L453.20,233.42L454.62,232.01L456.05,230.61L457.48,229.20L458.92,227.81L460.36,226.41L461.80,225.02L463.24,223.63L464.69,222.25L466.15,220.87L467.61,219.50L469.07,218.13L470.54,216.77L472.02,215.42L473.51,214.08L475.01,212.75L476.52,211.43L478.04,210.13L479.58,208.84L481.14,207.58L482.71,206.34L484.31,205.14L485.94,203.96L487.59,202.84L489.28,201.76L491.01,200.75L492.78,199.81L494.60,198.97L496.46,198.23L498.37,197.61L500.31,197.13L502.29,196.80L504.28,196.61L506.29,196.57L508.29,196.66L510.28,196.88L512.26,197.20L514.22,197.61L516.16,198.10L518.09,198.65L520.00,199.25L521.90,199.90L523.78,200.58L525.65,201.29L527.52,202.02L529.38,202.77L531.23,203.54L533.07,204.33L534.91,205.12L536.74,205.93L538.57,206.75L540.40,207.57L542.22,208.40L544.04,209.23L545.86,210.07L547.68,210.92L549.49,211.77L551.31,212.63L553.12,213.48L554.93,214.35L556.73,215.21L558.54,216.08L560.34,216.95L562.14,217.83L563.94,218.71L565.74,219.59L567.54,220.47L569.34,221.36L571.14,222.25L572.93,223.14L574.72,224.03L576.51,224.93L578.30,225.83L580.09,226.73L581.88,227.64L583.67,228.54L585.46,229.45L587.24,230.36L589.02,231.28L590.81,232.19L592.59,233.11L594.37,234.03L596.15,234.95L597.92,235.88L599.70,236.80L601.48,237.73L603.25,238.66L605.02,239.59L606.80,240.53L608.57,241.46L610.34,242.40L612.11,243.34L613.88,244.28L615.65,245.23L617.41,246.17L619.18,247.12L620.94,248.07L622.71,249.02L624.47,249.97L626.23,250.93L627.99,251.88L629.75,252.84L631.51,253.80L633.27,254.76L635.03,255.72L636.78,256.69L638.54,257.65L640.29,258.62L642.05,259.59L643.80,260.56L645.55,261.53L647.30,262.51L649.05,263.48L650.80,264.46L652.55,265.43L654.30,266.41L656.05,267.39L657.79,268.38L659.54,269.36L661.29,270.34L663.03,271.33L664.77,272.32L666.52,273.30L668.26,274.29L670.00,275.29L671.74,276.28L673.48,277.27L675.22,278.27L676.96,279.26L678.70,280.26L680.44,281.26L682.17,282.25L683.91,283.25L685.64,284.26L687.38,285.26L689.11,286.26L690.85,287.27L692.58,288.27L694.31,289.28L696.05,290.29L697.78,291.29L699.51,292.30L701.24,293.31L702.97,294.32L704.70,295.34L706.43,296.35L708.16,297.36L709.88,298.38L711.61,299.39L713.34,300.41L715.06,301.43L716.79,302.45L718.51,303.46L720.24,304.48L721.96,305.50L723.69,306.53L725.41,307.55L727.13,308.57L728.86,309.59L730.58,310.62L732.30,311.64L734.02,312.67L735.74,313.69L737.46,314.72L739.18,315.75L740.90,316.78L742.62,317.81L744.34,318.83L746.06,319.86L747.78,320.89L749.50,321.93L751.22,322.96L752.93,323.99L754.65,325.02L756.37,326.06L758.08,327.09L759.80,328.12L761.52,329.16L763.23,330.19L764.95,331.23L766.66,332.26L768.38,333.30L770.09,334.34L771.81,335.37L773.52,336.41L775.24,337.45L776.95,338.49L778.66,339.53L780.38,340.56L782.09,341.60L783.80,342.64L785.51,343.68L787.23,344.72L788.94,345.76L790.65,346.80L792.36,347.84L794.08,348.89L795.79,349.93L797.50,350.97" stroke="#ff0000" stroke-dasharray="17.99 18.92" stroke-dashoffset="36.66"/>
<path d="M203.92,697.10L204.43,695.16L204.94,693.23L205.45,691.29L205.97,689.36L206.49,687.43L207.02,685.50L207.56,683.57L208.10,681.64L208.64,679.71L209.19,677.79L209.74,675.86L210.30,673.94L210.86,672.02L211.43,670.10L212.00,668.18L212.58,666.26L213.16,664.35L213.75,662.43L214.34,660.52L214.94,658.61L215.54,656.70L216.15,654.79L216.76,652.89L217.38,650.98L218.00,649.08L218.63,647.18L219.26,645.28L219.90,643.38L220.54,641.48L221.19,639.59L221.84,637.70L222.49,635.81L223.15,633.92L223.82,632.03L224.49,630.14L225.17,628.26L225.85,626.37L226.53,624.49L227.22,622.61L227.92,620.74L228.62,618.86L229.32,616.99L230.03,615.11L230.75,613.24L231.46,611.38L232.19,609.51L232.92,607.64L233.65,605.78L234.39,603.92L235.13,602.06L235.88,600.20L236.63,598.35L237.39,596.50L238.15,594.64L238.91,592.79L239.68,590.95L240.46,589.10L241.24,587.26L242.02,585.41L242.81,583.57L243.61,581.74L244.40,579.90L245.21,578.07L246.01,576.23L246.83,574.40L247.64,572.58L248.46,570.75L249.29,568.93L250.12,567.10L250.95,565.28L251.79,563.47L252.63,561.65L253.48,559.84L254.33,558.02L255.19,556.21L256.05,554.41L256.91,552.60L257.78,550.80L258.65,549.00L259.53,547.20L260.41,545.40L261.30,543.60L262.19,541.81L263.08,540.02L263.98,538.23L264.88,536.44L265.79,534.66L266.70,532.88L267.62,531.09L268.53,529.32L269.46,527.54L270.39,525.77L271.32,523.99L272.25,522.22L273.19,520.46L274.13,518.69L275.08,516.93L276.03,515.16L276.99,513.40L277.95,511.65L278.91,509.89L279.88,508.14L280.85,506.39L281.82,504.64L282.80,502.89L283.78,501.15L284.77,499.41L285.76,497.67L286.75,495.93L287.75,494.19L288.75,492.46L289.76,490.73L290.76,489.00L291.78,487.27L292.79,485.55L293.81,483.82L294.84,482.10L295.86,480.38L296.89,478.67L297.93,476.95L298.96,475.24L300.00,473.53L301.05,471.82L302.10,470.12L303.15,468.41L304.20,466.71L305.26,465.01L306.33,463.32L307.39,461.62L308.46,459.93L309.53,458.24L310.61,456.55L311.69,454.86L312.77,453.18L313.86,451.50L314.95,449.82L316.04,448.14L317.13,446.46L318.23,444.79L319.34,443.12L320.44,441.45L321.55,439.78L322.66,438.12L323.78,436.46L324.90,434.80L326.02,433.14L327.14,431.48L328.27,429.83L329.40,428.18L330.54,426.53L331.67,424.88L332.81,423.23L333.96,421.59L335.10,419.95L336.25,418.31L337.41,416.67L338.56,415.04L339.72,413.41L340.88,411.78L342.05,410.15L343.22,408.52L344.39,406.90L345.56,405.28L346.74,403.66L347.92,402.04L349.10,400.42L350.29,398.81L351.47,397.20L352.66,395.59L353.86,393.98L355.06,392.38L356.26,390.78L357.46,389.18L358.66,387.58L359.87,385.98L361.08,384.39L362.30,382.79L363.51,381.20L364.73,379.62L365.95,378.03L367.18,376.45L368.40,374.86L369.63,373.29L370.87,371.71L372.10,370.13L373.34,368.56L374.58,366.99L375.82,365.42L377.07,363.85L378.32,362.29L379.57,360.72L380.82,359.16L382.08,357.60L383.34,356.05L384.60,354.49L385.86,352.94L387.13,351.39L388.40,349.84L389.67,348.29L390.94,346.75L392.22,345.21L393.50,343.67L394.78,342.13L396.07,340.59L397.35,339.06L398.64,337.53L399.93,336.00L401.22,334.47L402.52,332.94L403.82,331.42L405.12,329.90L406.42,328.38L407.73,326.86L409.04,325.34L410.35,323.83L411.66,322.32L412.97,320.81L414.29,319.30L415.61,317.79L416.93,316.29L418.25,314.79L419.58,313.29L420.91,311.79L422.24,310.29L423.57,308.80L424.91,307.31L426.24,305.82L427.58,304.33L428.92,302.84L430.27,301.36L431.61,299.88L432.96,298.40L434.31,296.92L435.67,295.44L437.02,293.97L438.38,292.50L439.74,291.03L441.10,289.56L442.46,288.10L443.83,286.63L445.20,285.17L446.57,283.71L447.94,282.25L449.31,280.80L450.69,279.35L452.07,277.90L453.45,276.45L454.84,275.00L456.23,273.56L457.62,272.12L459.01,270.68L460.41,269.25L461.81,267.82L463.21,266.39L464.62,264.97L466.03,263.55L467.45,262.13L468.87,260.72L470.30,259.32L471.73,257.92L473.18,256.54L474.63,255.16L476.09,253.79L477.56,252.43L479.05,251.09L480.55,249.77L482.07,248.47L483.62,247.19L485.18,245.95L486.78,244.74L488.40,243.57L490.07,242.46L491.77,241.41L493.53,240.44L495.33,239.57L497.18,238.81L499.08,238.17L501.02,237.68L502.99,237.33L504.98,237.13L506.98,237.08L508.98,237.16L510.97,237.36L512.95,237.65L514.92,238.03L516.87,238.47L518.81,238.97L520.74,239.52L522.65,240.10L524.56,240.72L526.45,241.36L528.34,242.02L530.23,242.70L532.11,243.39L533.98,244.09L535.85,244.81L537.72,245.53L539.58,246.26L541.44,247.00L543.30,247.75L545.15,248.50L547.00,249.26L548.86,250.02L550.70,250.79L552.55,251.56L554.40,252.34L556.24,253.12L558.08,253.90L559.92,254.69L561.76,255.48L563.60,256.28L565.44,257.07L567.27,257.88L569.10,258.68L570.94,259.49L572.77,260.30L574.59,261.12L576.42,261.93L578.25,262.76L580.07,263.58L581.89,264.41L583.72,265.24L585.54,266.07L587.36,266.91L589.17,267.74L590.99,268.58L592.81,269.43L594.62,270.28L596.43,271.13L598.24,271.98L600.06,272.83L601.86,273.69L603.67,274.55L605.48,275.41L607.28,276.28L609.09,277.14L610.89,278.01L612.69,278.89L614.50,279.76L616.30,280.64L618.09,281.52L619.89,282.40L621.69,283.28L623.48,284.17L625.28,285.05L627.07,285.94L628.86,286.84L630.65,287.73L632.44,288.63L634.23,289.52L636.02,290.43L637.81,291.33L639.59,292.23L641.38,293.14L643.16,294.05L644.95,294.96L646.73,295.87L648.51,296.78L650.29,297.70L652.07,298.61L653.85,299.53L655.63,300.45L657.40,301.38L659.18,302.30L660.95,303.23L662.73,304.15L664.50,305.08L666.27,306.01L668.05,306.95L669.82,307.88L671.59,308.82L673.36,309.75L675.12,310.69L676.89,311.63L678.66,312.57L680.43,313.52L682.19,314.46L683.96,315.41L685.72,316.35L687.48,317.30L689.24,318.25L691.01,319.20L692.77,320.15L694.53,321.11L696.29,322.06L698.05,323.02L699.81,323.97L701.56,324.93L703.32,325.89L705.08,326.85L706.83,327.81L708.59,328.78L710.34,329.74L712.10,330.71L713.85,331.67L715.60,332.64L717.35,333.61L719.11,334.58L720.86,335.55L722.61,336.52L724.36,337.49L726.11,338.46L727.86,339.44L729.61,340.41L731.35,341.39L733.10,342.36L734.85,343.34L736.60,344.32L738.34,345.30L740.09,346.28L741.83,347.26L743.58,348.24L745.32,349.22L747.07,350.21L748.81,351.19L750.55,352.17L752.30,353.16L754.04,354.15L755.78,355.13L757.52,356.12L759.26,357.11L761.00,358.10L762.75,359.08L764.49,360.07L766.23,361.06L767.97,362.05L769.70,363.05L771.44,364.04L773.18,365.03L774.92,366.02L776.66,367.02L778.40,368.01L780.14,369.00L781.87,370.00L783.61,370.99L785.35,371.99L787.08,372.98L788.82,373.98L790.56,374.98L792.29,375.97L794.03,376.97L795.76,377.97L797.50,378.97" stroke="#0000ff" stroke-dasharray="18.1 18.8" stroke-dashoffset="36.59"/>
</g>
<g fill="none" stroke-width="2">
<path d="M187.2,128.9H266.2" stroke="#ff0000"/>
<path d="M187.2,192.1H266.2" stroke="#ff0000" stroke-dasharray="18.5 18.6"/>
<path d="M492.4,507.7H560.8" stroke="#000"/>
<path d="M492.4,570.8H560.8" stroke="#ff0000"/>
<path d="M492.4,634.0H560.8" stroke="#0000ff"/>
</g>
<g font-family="'Liberation Serif', serif">
<text transform="translate(84.75,88.20) scale(0.899,1.000)" font-size="36" fill="#000" stroke="#fff" stroke-width="0.00">1</text>
<text transform="translate(105.09,88.20) scale(1.101,1.000)" font-size="36" fill="#000" stroke="#fff" stroke-width="0.18">0</text>
<text transform="translate(125.42,77.70) scale(1.233,1.000)" font-size="25.5" fill="#000" stroke="#fff" stroke-width="0.24">2</text>
<text transform="translate(140.87,77.70) scale(1.166,1.000)" font-size="25.5" fill="#000" stroke="#fff" stroke-width="0.26">8</text>
<text transform="translate(84.75,204.86) scale(0.899,1.000)" font-size="36" fill="#000" stroke="#fff" stroke-width="0.00">1</text>
<text transform="translate(105.09,204.86) scale(1.101,1.000)" font-size="36" fill="#000" stroke="#fff" stroke-width="0.18">0</text>
<text transform="translate(125.42,194.36) scale(1.233,1.000)" font-size="25.5" fill="#000" stroke="#fff" stroke-width="0.24">2</text>
<text transform="translate(140.73,194.36) scale(1.157,1.000)" font-size="25.5" fill="#000" stroke="#fff" stroke-width="0.26">6</text>
<text transform="translate(84.75,331.12) scale(0.899,1.000)" font-size="36" fill="#000" stroke="#fff" stroke-width="0.00">1</text>
<text transform="translate(105.09,331.12) scale(1.101,1.000)" font-size="36" fill="#000" stroke="#fff" stroke-width="0.18">0</text>
<text transform="translate(125.42,320.62) scale(1.233,1.000)" font-size="25.5" fill="#000" stroke="#fff" stroke-width="0.24">2</text>
<text transform="translate(141.47,320.62) scale(1.063,1.000)" font-size="25.5" fill="#000" stroke="#fff" stroke-width="0.12">4</text>
<text transform="translate(84.75,457.38) scale(0.899,1.000)" font-size="36" fill="#000" stroke="#fff" stroke-width="0.00">1</text>
<text transform="translate(105.09,457.38) scale(1.101,1.000)" font-size="36" fill="#000" stroke="#fff" stroke-width="0.18">0</text>
<text transform="translate(125.42,446.88) scale(1.233,1.000)" font-size="25.5" fill="#000" stroke="#fff" stroke-width="0.24">2</text>
<text transform="translate(140.62,446.88) scale(1.233,1.000)" font-size="25.5" fill="#000" stroke="#fff" stroke-width="0.24">2</text>
<text transform="translate(84.75,583.64) scale(0.899,1.000)" font-size="36" fill="#000" stroke="#fff" stroke-width="0.00">1</text>
<text transform="translate(105.09,583.64) scale(1.101,1.000)" font-size="36" fill="#000" stroke="#fff" stroke-width="0.18">0</text>
<text transform="translate(125.42,573.14) scale(1.233,1.000)" font-size="25.5" fill="#000" stroke="#fff" stroke-width="0.24">2</text>
<text transform="translate(140.87,573.14) scale(1.166,1.000)" font-size="25.5" fill="#000" stroke="#fff" stroke-width="0.26">0</text>
<text transform="translate(84.75,696.80) scale(0.899,1.000)" font-size="36" fill="#000" stroke="#fff" stroke-width="0.00">1</text>
<text transform="translate(105.09,696.80) scale(1.101,1.000)" font-size="36" fill="#000" stroke="#fff" stroke-width="0.18">0</text>
<text transform="translate(126.93,686.30) scale(0.925,1.000)" font-size="25.5" fill="#000" stroke="#fff" stroke-width="0.00">1</text>
<text transform="translate(140.87,686.30) scale(1.166,1.000)" font-size="25.5" fill="#000" stroke="#fff" stroke-width="0.26">8</text>
<text transform="translate(155.95,745.30) scale(1.134,1.000)" font-size="36" fill="#000" stroke="#fff" stroke-width="0.24">0</text>
<text transform="translate(365.74,745.30) scale(1.240,1.000)" font-size="36" fill="#000" stroke="#fff" stroke-width="0.24">2</text>
<text transform="translate(576.94,745.30) scale(1.082,1.000)" font-size="36" fill="#000" stroke="#fff" stroke-width="0.15">4</text>
<text transform="translate(786.96,745.30) scale(1.125,1.000)" font-size="36" fill="#000" stroke="#fff" stroke-width="0.22">6</text>
<text transform="translate(322.12,787.50) scale(0.990,1.000)" font-size="36" fill="#000" stroke="#fff" stroke-width="0.00">F</text>
<text transform="translate(343.98,787.50) scale(1.205,1.000)" font-size="36" fill="#000" stroke="#fff" stroke-width="0.25">r</text>
<text transform="translate(361.78,787.50) scale(1.043,1.000)" font-size="36" fill="#000" stroke="#fff" stroke-width="0.08">e</text>
<text transform="translate(380.64,787.50) scale(1.159,1.000)" font-size="36" fill="#000" stroke="#fff" stroke-width="0.26">q</text>
<text transform="translate(404.13,787.50) scale(1.100,1.000)" font-size="36" fill="#000" stroke="#fff" stroke-width="0.18">u</text>
<text transform="translate(428.80,787.50) scale(1.028,1.000)" font-size="36" fill="#000" stroke="#fff" stroke-width="0.05">e</text>
<text transform="translate(448.56,787.50) scale(1.197,1.000)" font-size="36" fill="#000" stroke="#fff" stroke-width="0.25">n</text>
<text transform="translate(474.45,787.50) scale(1.022,1.000)" font-size="36" fill="#000" stroke="#fff" stroke-width="0.04">c</text>
<text transform="translate(492.56,787.50) scale(1.114,1.000)" font-size="36" fill="#000" stroke="#fff" stroke-width="0.20">y</text>
<text transform="translate(547.09,787.50) scale(1.136,1.000)" font-size="36" fill="#000" stroke="#fff" stroke-width="0.24">m</text>
<text transform="translate(582.36,787.50) scale(1.050,1.000)" font-size="36" fill="#000" stroke="#fff" stroke-width="0.10">H</text>
<text transform="translate(611.65,787.50) scale(0.928,1.000)" font-size="36" fill="#000" stroke="#fff" stroke-width="0.00">z</text>
<path d="M541.20,759.60C536.61,763.04 535.82,768.54 538.46,773.70C539.07,775.08 537.84,776.04 535.88,776.80C537.84,777.56 539.07,778.52 538.46,779.90C535.82,785.06 536.61,790.56 541.20,794.00" fill="none" stroke="#000" stroke-width="1.5" stroke-linecap="round"/>
<path d="M632.60,759.60C637.19,763.04 637.98,768.54 635.34,773.70C634.73,775.08 635.96,776.04 637.92,776.80C635.96,777.56 634.73,778.52 635.34,779.90C637.98,785.06 637.19,790.56 632.60,794.00" fill="none" stroke="#000" stroke-width="1.5" stroke-linecap="round"/>
<text x="535" y="787" font-size="36" fill="none">{</text><text x="631" y="787" font-size="36" fill="none">}</text>
<text transform="translate(271.01,134.70) scale(1.138,1.000)" font-size="36" fill="#000" stroke="#fff" stroke-width="0.24">S</text>
<text transform="translate(294.16,134.70) scale(1.174,1.000)" font-size="36" fill="#000" stroke="#fff" stroke-width="0.26">a</text>
<text transform="translate(316.20,134.70) scale(1.159,1.000)" font-size="36" fill="#000" stroke="#fff" stroke-width="0.26">u</text>
<text transform="translate(340.72,134.70) scale(1.104,1.000)" font-size="36" fill="#000" stroke="#fff" stroke-width="0.19">s</text>
<text transform="translate(358.27,134.70) scale(1.167,1.000)" font-size="36" fill="#000" stroke="#fff" stroke-width="0.26">a</text>
<text transform="translate(379.80,134.70) scale(1.002,1.000)" font-size="36" fill="#000" stroke="#fff" stroke-width="0.00">g</text>
<text transform="translate(401.33,134.70) scale(1.081,1.000)" font-size="36" fill="#000" stroke="#fff" stroke-width="0.15">e</text>
<text transform="translate(272.86,198.10) scale(0.854,1.000)" font-size="36" fill="#000" stroke="#fff" stroke-width="0.00">K</text>
<text transform="translate(296.93,198.10) scale(1.086,1.000)" font-size="36" fill="#000" stroke="#fff" stroke-width="0.16">i</text>
<text transform="translate(310.68,198.10) scale(1.179,1.000)" font-size="36" fill="#000" stroke="#fff" stroke-width="0.25">n</text>
<text transform="translate(334.48,198.10) scale(1.126,1.000)" font-size="36" fill="#000" stroke="#fff" stroke-width="0.22">k</text>
<text transform="translate(587.78,514.90) scale(1.067,1.000)" font-size="34" font-style="italic" fill="#000" stroke="#fff" stroke-width="0.13">β</text>
<path d="M630.3,497.3h19.9M630.3,507.4h19.9" stroke="#000" stroke-width="1.5" fill="none"/>
<text transform="translate(671.54,513.50) scale(1.140,1.000)" font-size="36" fill="#000" stroke="#fff" stroke-width="0.25">0</text>
<circle cx="698.45" cy="511.20" r="2.4" fill="#000"/><text x="695.9" y="513.5" font-size="36" fill="none">.</text>
<text transform="translate(706.83,513.50) scale(0.907,1.000)" font-size="36" fill="#000" stroke="#fff" stroke-width="0.00">1</text>
<text transform="translate(587.78,578.00) scale(1.067,1.000)" font-size="34" font-style="italic" fill="#000" stroke="#fff" stroke-width="0.13">β</text>
<path d="M630.3,560.4h19.9M630.3,570.5h19.9" stroke="#000" stroke-width="1.5" fill="none"/>
<text transform="translate(672.93,576.60) scale(0.907,1.000)" font-size="36" fill="#000" stroke="#fff" stroke-width="0.00">1</text>
<circle cx="698.80" cy="574.30" r="2.4" fill="#000"/><text x="696.4" y="576.6" font-size="36" fill="none">.</text>
<text transform="translate(704.64,576.60) scale(1.140,1.000)" font-size="36" fill="#000" stroke="#fff" stroke-width="0.25">0</text>
<text transform="translate(587.78,641.30) scale(1.067,1.000)" font-size="34" font-style="italic" fill="#000" stroke="#fff" stroke-width="0.13">β</text>
<path d="M630.3,623.7h19.9M630.3,633.8h19.9" stroke="#000" stroke-width="1.5" fill="none"/>
<text transform="translate(672.85,639.90) scale(0.931,1.000)" font-size="36" fill="#000" stroke="#fff" stroke-width="0.00">1</text>
<text transform="translate(693.56,639.90) scale(1.121,1.000)" font-size="36" fill="#000" stroke="#fff" stroke-width="0.22">0</text>
<circle cx="720.05" cy="637.60" r="2.4" fill="#000"/><text x="717.6" y="639.9" font-size="36" fill="none">.</text>
<text transform="translate(726.86,639.90) scale(1.121,1.000)" font-size="36" fill="#000" stroke="#fff" stroke-width="0.22">0</text>
<g transform="translate(70.5,0) rotate(-90)">
<text transform="translate(-507.33,0.00) scale(1.003,1.000)" font-size="36" font-style="italic" fill="#000" stroke="#fff" stroke-width="0.01">E</text>
<text transform="translate(-387.82,0.00) scale(0.976,1.000)" font-size="36" fill="#000" stroke="#fff" stroke-width="0.00">e</text>
<text transform="translate(-368.98,0.00) scale(1.151,1.000)" font-size="36" fill="#000" stroke="#fff" stroke-width="0.26">r</text>
<text transform="translate(-351.17,0.00) scale(0.920,1.000)" font-size="36" fill="#000" stroke="#fff" stroke-width="0.00">g</text>
<text transform="translate(-330.53,0.00) scale(1.068,1.000)" font-size="36" fill="#000" stroke="#fff" stroke-width="0.13">s</text>
<text transform="translate(-285.77,0.00) scale(1.033,1.000)" font-size="36" fill="#000" stroke="#fff" stroke-width="0.06">s</text>
<path d="M-393.80,-28.90C-398.39,-25.37 -399.18,-19.72 -396.54,-14.43C-395.93,-13.01 -397.16,-12.03 -399.12,-11.25C-397.16,-10.47 -395.93,-9.48 -396.54,-8.07C-399.18,-2.78 -398.39,2.87 -393.80,6.40" fill="none" stroke="#000" stroke-width="1.5" stroke-linecap="round"/>
<path d="M-264.30,-28.90C-259.71,-25.37 -258.92,-19.72 -261.56,-14.43C-262.17,-13.01 -260.94,-12.03 -258.98,-11.25C-260.94,-10.47 -262.17,-9.48 -261.56,-8.07C-258.92,-2.78 -259.71,2.87 -264.30,6.40" fill="none" stroke="#000" stroke-width="1.5" stroke-linecap="round"/>
</g>
<path d="M76.5,478.7L41.1,458.4M77.4,310.7L41.6,288.6" stroke="#000" stroke-width="1.7" fill="none"/>
<circle cx="31.5" cy="487.4" r="2.4" fill="#000"/>
<g fill="none" stroke="#000" stroke-linecap="round" stroke-linejoin="round"><path d="M74.6,458.3C77.6,458.6 77.9,453.6 73.4,451.9L53.4,446.4C49.4,445.2 46.2,442.8 46.8,439.6" stroke-width="1.9"/><path d="M53.6,440.6V452.4" stroke-width="1.2"/></g>
<circle cx="74.3" cy="458.0" r="1.7" fill="#000"/><circle cx="47.6" cy="439.3" r="1.7" fill="#000"/>
</g>
</svg>
</body></html>
